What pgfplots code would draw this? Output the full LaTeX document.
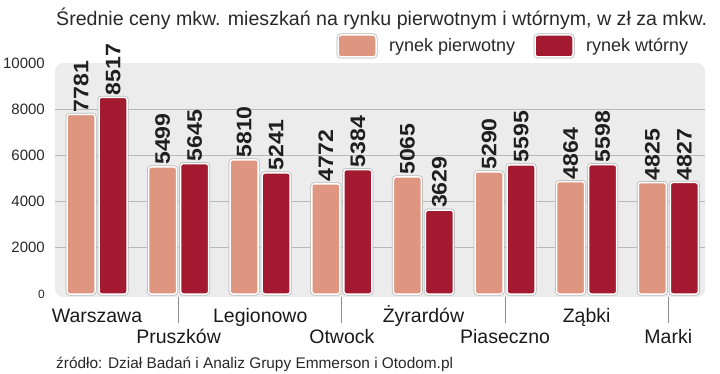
\documentclass[border=0pt]{standalone}
\usepackage{fontspec}
\setmainfont{Liberation Sans}
\newfontfamily\numfont[FakeStretch=1.1]{Liberation Sans}
\usepackage{pgfplots}
\pgfplotsset{compat=1.18}
\definecolor{pier}{RGB}{222,150,128}
\definecolor{wtor}{RGB}{163,26,48}
\definecolor{txt}{RGB}{40,40,40}
\definecolor{panel}{RGB}{236,236,236}
\begin{document}
\begin{tikzpicture}[x=1pt,y=1pt]
\path[use as bounding box] (0,0) rectangle (720,373);
\node[anchor=base west, text=txt, font=\fontsize{19.6}{20}\selectfont, inner sep=0pt] at (56,373-26) {Średnie ceny mkw. mieszkań na rynku pierwotnym i wtórnym, w zł za mkw.};
\draw[fill=pier, draw=white, line width=1.5pt, rounded corners=3pt, preaction={draw=black!30, line width=3pt}] (338,373-57) rectangle (376,373-35);
\node[anchor=base west, text=txt, font=\fontsize{18}{18}\selectfont, inner sep=0pt] at (389,373-52) {rynek pierwotny};
\draw[fill=wtor, draw=white, line width=1.5pt, rounded corners=3pt, preaction={draw=black!30, line width=3pt}] (535,373-57) rectangle (573,373-35);
\node[anchor=base west, text=txt, font=\fontsize{18}{18}\selectfont, inner sep=0pt] at (586,373-52) {rynek wtórny};
\node[anchor=base west, text=txt, font=\fontsize{15.4}{15.4}\selectfont, inner sep=0pt] at (56,373-368) {źródło: Dział Badań i Analiz Grupy Emmerson i Otodom.pl};
\begin{axis}[
  at={(55pt,76pt)}, anchor=south west, scale only axis,
  width=650pt, height=234pt,
  xmin=-0.515, xmax=7.45, ymin=-130, ymax=10000,
  ybar, bar width=28pt,
  axis line style={draw=none},
  axis background/.style={fill=panel, rounded corners=8pt},
  scaled y ticks=false,
  ytick={0,2000,4000,6000,8000,10000},
  yticklabels={{\fontsize{12}{12}\selectfont 0},2000,4000,6000,8000,10000},
  ytick style={draw=none},
  yticklabel style={font=\fontsize{15}{15}\selectfont, text=txt, inner sep=0pt, xshift=-10pt},
  extra y ticks={2000,4000,6000,8000},
  extra y tick labels={},
  extra y tick style={grid=major, major grid style={black!28, line width=0.7pt}, ytick style={draw=none}},
  xtick={0,2,4,6},
  xticklabels={Warszawa,Legionowo,Żyrardów,Ząbki},
  xtick pos=lower,
  xtick style={draw=none},
  xticklabel style={font=\fontsize{19.5}{20}\selectfont, text=black!90, inner sep=0pt, anchor=north, text height=14pt, text depth=0pt, yshift=-7pt},
  extra x ticks={1,3,5,7},
  extra x tick labels={Pruszków,Otwock,Piaseczno,Marki},
  extra x tick style={xtick style={draw=black!45, line width=0.8pt}, major tick length=26pt, tick align=outside, xticklabel style={yshift=1pt}},
  /pgf/number format/1000 sep={},
  /pgf/number format/assume math mode=true,
  nodes near coords,
  every node near coord/.append style={rotate=90, anchor=west, font=\numfont\bfseries\fontsize{21}{21}\selectfont, text=black!88, inner sep=1.5pt},
  clip=false,
]
\addplot[fill=pier, draw=white, line width=1.5pt, rounded corners=2.5pt, preaction={draw=black!28, line width=3pt}, bar shift=-16pt]
  coordinates {(0,7781) (1,5499) (2,5810) (3,4772) (4,5065) (5,5290) (6,4864) (7,4825)};
\addplot[fill=wtor, draw=white, line width=1.5pt, rounded corners=2.5pt, preaction={draw=black!28, line width=3pt}, bar shift=16pt]
  coordinates {(0,8517) (1,5645) (2,5241) (3,5384) (4,3629) (5,5595) (6,5598) (7,4827)};
\end{axis}
\end{tikzpicture}
\end{document}
